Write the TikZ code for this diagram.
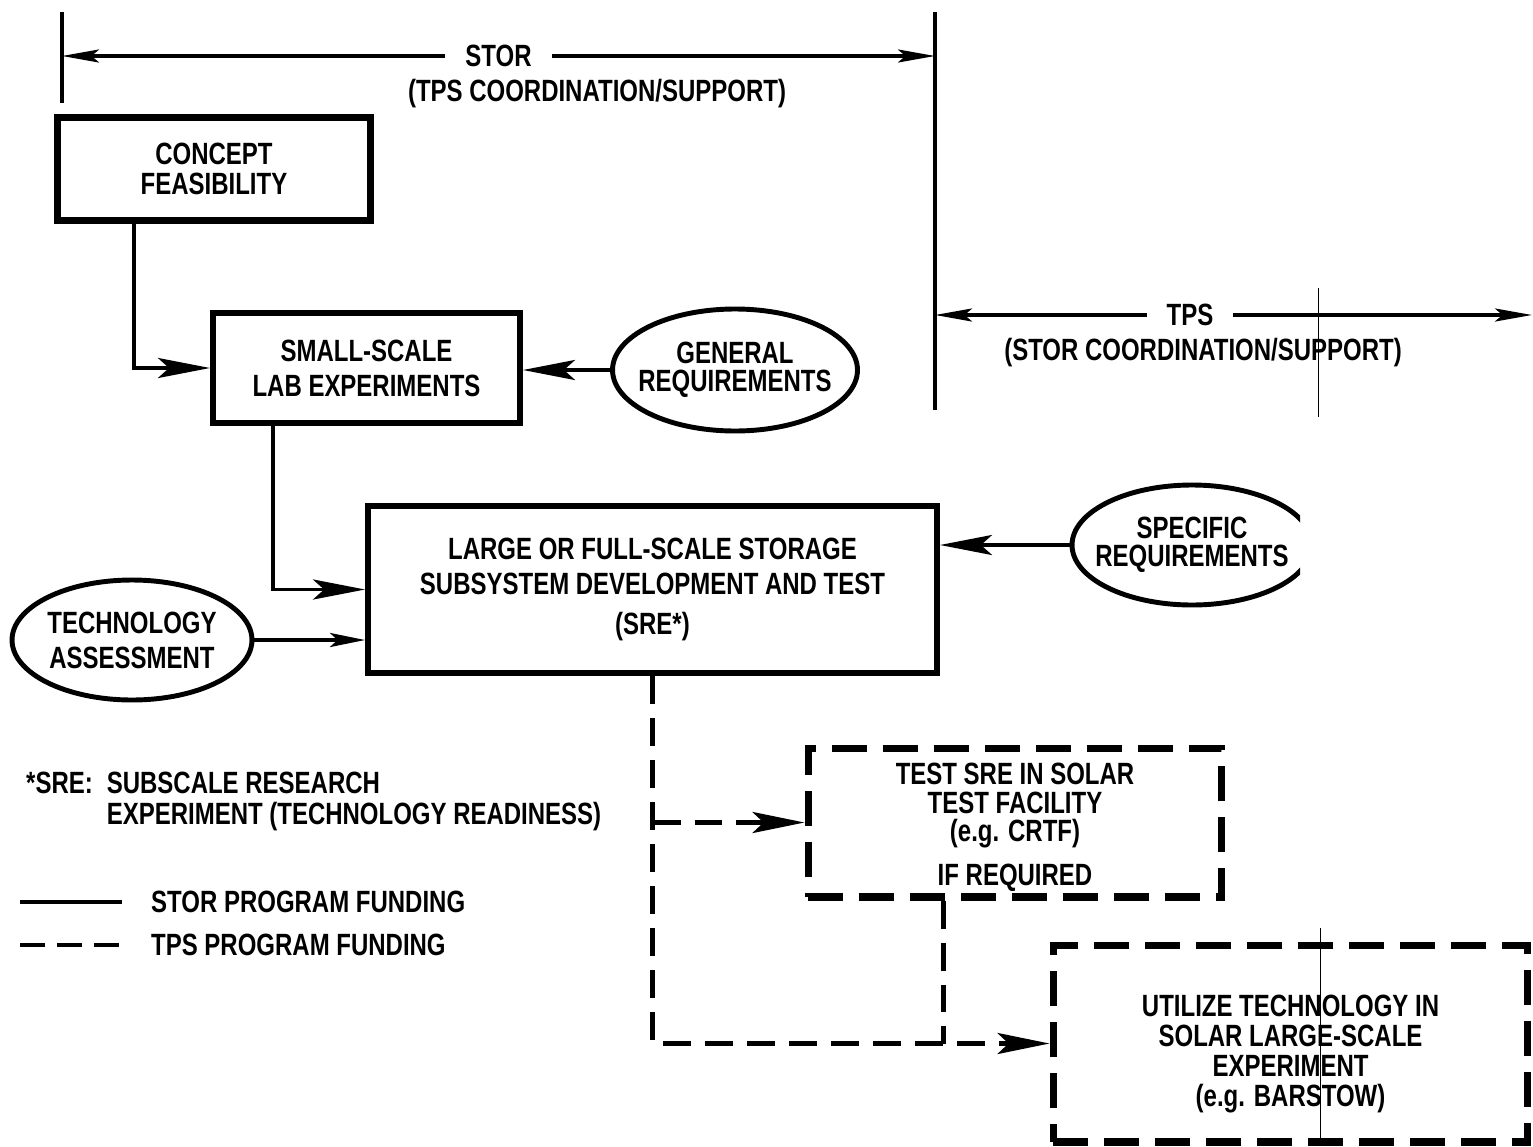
\documentclass[tikz,border=0pt]{standalone}
\usepackage{fontspec}
\setmainfont{Liberation Sans}[FakeStretch=0.78]
\usetikzlibrary{arrows.meta,shapes.geometric,calc}

\begin{document}
\begin{tikzpicture}[x=0.02cm, y=-0.02cm,
  every node/.style={font=\bfseries\fontsize{17.5}{17}\selectfont, align=center},
  blk/.style={draw, line width=3.4pt, inner sep=0pt},
  dblk/.style={draw, line width=4pt, dash pattern=on 0.7cm off 0.32cm, inner sep=0pt},
  req/.style={ellipse, draw, line width=2.8pt, inner xsep=-0.6cm, inner ysep=0pt,
    minimum width=4.8cm, minimum height=2.4cm},
  flow/.style={line width=2.2pt, -{Stealth[length=1.04cm, width=0.4cm, inset=0.22cm]}},
  flowsm/.style={line width=2.2pt, -{Stealth[length=0.7cm, width=0.28cm, inset=0.15cm]}},
  dline/.style={line width=2.6pt, dash pattern=on 0.56cm off 0.28cm},
  dflow/.style={dline, -{Stealth[length=1.04cm, width=0.42cm, inset=0.22cm]}},
  dim/.style={line width=2pt, {Stealth[length=0.74cm, width=0.26cm, inset=0.15cm]}-{Stealth[length=0.74cm, width=0.26cm, inset=0.15cm]}},
  bar/.style={line width=2.6pt},
  gap/.style={fill=white, inner xsep=0.4cm}]
\useasboundingbox (0,0) rectangle (1533,1146);

% program ranges
\coordinate (sa) at (62,12);
\coordinate (sb) at (62,103);
\coordinate (ta) at (935,12);
\coordinate (tb) at (935,410);
\draw[bar] (sa) -- (sb);
\draw[bar] (ta) -- (tb);
\coordinate (sl) at (62,56);
\coordinate (sr) at (935,56);
\draw[dim] (sl) -- node[gap] (stor) {STOR} (sr);
\node (storsub) at (597,94) {(TPS COORDINATION/SUPPORT)};
\coordinate (tl) at (935,315);
\coordinate (tr) at (1532,315);
\draw[dim] (tl) -- node[gap, pos=0.427] (tps) {TPS} (tr);
\node (tpssub) at (1203,353) {(STOR COORDINATION/SUPPORT)};

% boxes
\node[blk, line width=4pt, minimum width=6.26cm, minimum height=2.06cm] (conc) at (214,169)
  {CONCEPT\\FEASIBILITY};
\node[blk, minimum width=6.14cm, minimum height=2.2cm] (small) at (366.5,368)
  {SMALL-SCALE\\[2.9pt]LAB EXPERIMENTS};
\node[blk, minimum width=11.38cm, minimum height=3.34cm] (big) at (652.5,589.5)
  {LARGE OR FULL-SCALE STORAGE\\[2.9pt]SUBSYSTEM DEVELOPMENT AND TEST\\[5.8pt](SRE*)};
\node[dblk, minimum width=8.28cm, minimum height=2.98cm] (test) at (1015,822.5)
  {\rule{0pt}{18pt}TEST SRE IN SOLAR\\[-0.5pt]TEST FACILITY\\[-1pt](e.g. CRTF)\\[8pt]IF REQUIRED};
\node[dblk, minimum width=9.5cm, minimum height=3.94cm] (util) at (1290.5,1043.5)
  {\rule{0pt}{24pt}UTILIZE TECHNOLOGY IN\\SOLAR LARGE-SCALE\\EXPERIMENT\\(e.g. BARSTOW)};

% requirements
\node[req, minimum width=4.9cm, minimum height=2.44cm] (gen) at (735,370) {GENERAL\\[-1pt]REQUIREMENTS};
\node[req] (tech) at (132,640) {TECHNOLOGY\\[2.9pt]ASSESSMENT};
\begin{scope}
  \clip (0,0) rectangle (1300,1146);
  \node[req] (spec) at (1192,545) {SPECIFIC\\[-1pt]REQUIREMENTS};
\end{scope}

% STOR funded flow
\draw[flow] ($(conc.south west)!.25!(conc.south east)$) |- (small.west);
\draw[flow] (gen.west) -- (gen.west -| small.east);
\draw[flow] ($(small.south west)!.2!(small.south east)$) |- (big.west);
\draw[flowsm] (tech.east) -- (tech.east -| big.west);
\draw[flow] (spec.west) -- (spec.west -| big.east);

% TPS funded flow
\draw[dflow] (big.south) |- (util.west);
\draw[dflow] (big.south |- test.west) -- (test.west);
\coordinate (tj) at ($(test.south west)!.33!(test.south east)$);
\draw[dline] (tj) -- (tj |- util.west);

% footnote and legend
\node[anchor=west] (sre) at (20,803)
  {\begin{tabular}{@{}l@{\hspace{0.28cm}}l@{}}*SRE: & SUBSCALE RESEARCH\\ & EXPERIMENT (TECHNOLOGY READINESS)\end{tabular}};
\coordinate (la) at (20,902);
\coordinate (lb) at (122,902);
\draw[line width=2.2pt] (la) -- (lb);
\node[anchor=west] (lsolid) at (145,902) {STOR PROGRAM FUNDING};
\coordinate (lc) at (20,945);
\coordinate (ld) at (122,945);
\draw[line width=2.6pt, dash pattern=on 0.5cm off 0.24cm] (lc) -- (ld);
\node[anchor=west] (ldash) at (145,945) {TPS PROGRAM FUNDING};

% scan lines
\draw[line width=0.4pt] (1318,288) -- (1318,417);
\draw[line width=0.4pt] (1320,928) -- (1320,1146);
\end{tikzpicture}
\end{document}
